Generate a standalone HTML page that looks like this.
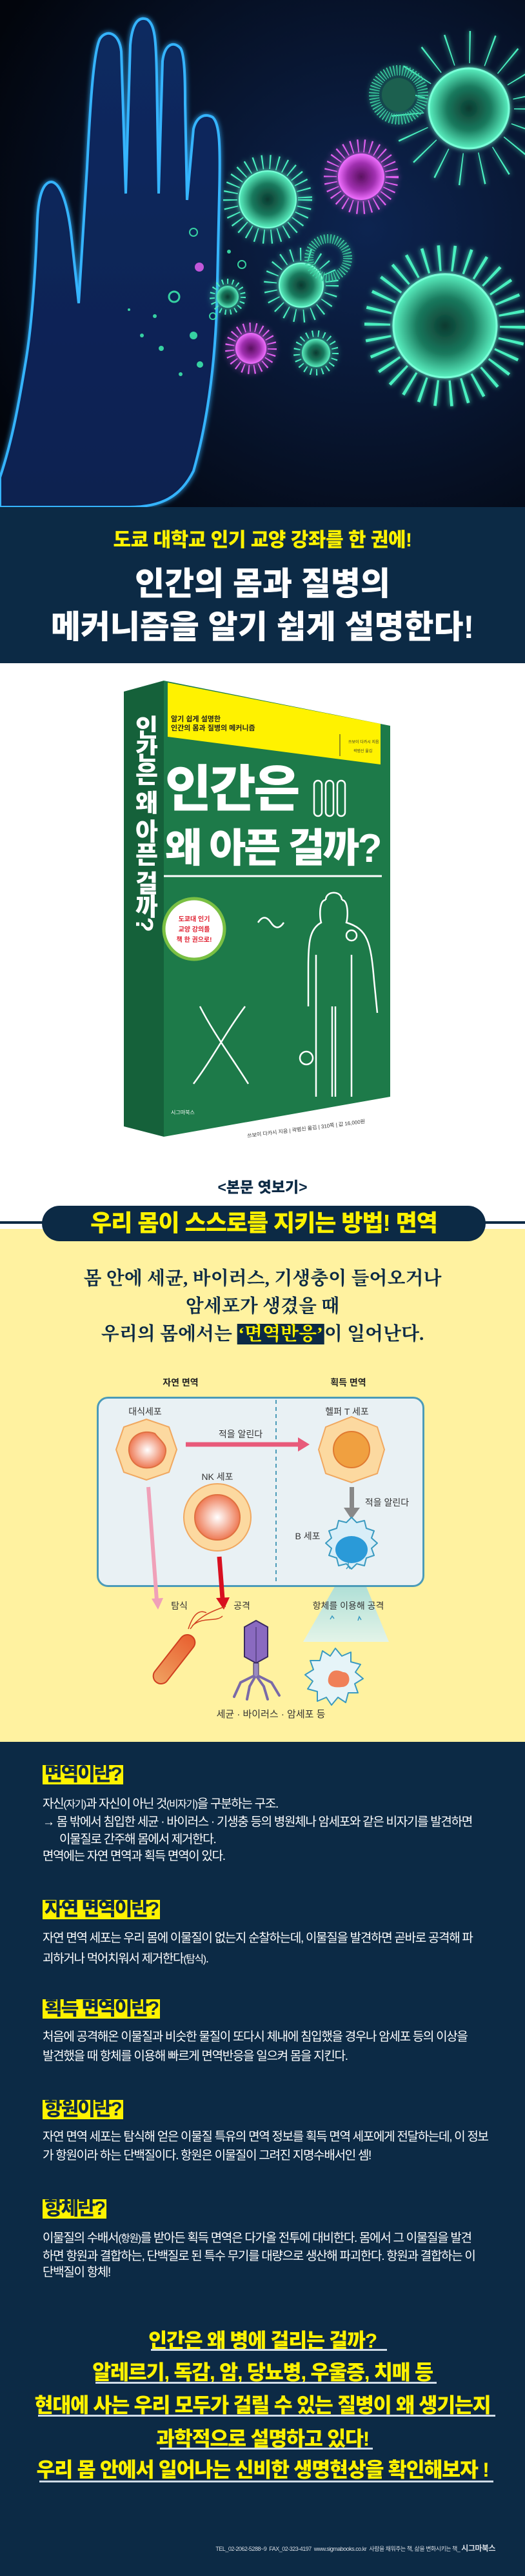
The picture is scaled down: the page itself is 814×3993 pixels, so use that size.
<!DOCTYPE html>
<html><head><meta charset="utf-8">
<style>
*{margin:0;padding:0;box-sizing:border-box}
body{width:814px;height:3993px;position:relative;overflow:hidden;background:#fff;font-family:"Liberation Sans","Noto Sans CJK KR",sans-serif}
.a{position:absolute;white-space:nowrap}
.c{transform:translateX(-50%)}
.navy{background:#0c2a45}
.h{position:absolute;left:66px;height:30px;line-height:30px;background:#fff200;color:#0c2a45;font-weight:900;font-size:30px;padding:0 3px;letter-spacing:-2px;white-space:nowrap}
.b{position:absolute;left:66px;color:#fff;font-size:19px;letter-spacing:-1.3px;line-height:22px;white-space:nowrap}
.y{position:absolute;left:407px;transform:translateX(-50%);color:#fff200;font-weight:900;font-size:31.5px;letter-spacing:-1.2px;line-height:36px;white-space:nowrap}
.u{position:absolute;height:3px;background:#d0dce8}
</style></head><body>

<!-- HERO -->
<svg class="a" style="left:0;top:0" width="814" height="786" viewBox="0 0 814 786">
<defs>
<radialGradient id="bg" cx="0.7" cy="0.45" r="0.8"><stop offset="0" stop-color="#0d2450"/><stop offset="1" stop-color="#02050c"/></radialGradient>
<linearGradient id="hand" x1="0" y1="0" x2="0" y2="1"><stop offset="0" stop-color="#0a2a60"/><stop offset="1" stop-color="#082050"/></linearGradient>
<filter id="gl" x="-30%" y="-30%" width="160%" height="160%"><feGaussianBlur stdDeviation="4" result="b"/><feMerge><feMergeNode in="b"/><feMergeNode in="SourceGraphic"/></feMerge></filter>
<radialGradient id="gv" cx="0.5" cy="0.5" r="0.5"><stop offset="0" stop-color="#0c3a30"/><stop offset="0.55" stop-color="#1a7a5e"/><stop offset="1" stop-color="#5af0c0"/></radialGradient>
<radialGradient id="pv" cx="0.5" cy="0.5" r="0.5"><stop offset="0" stop-color="#5a1060"/><stop offset="0.6" stop-color="#a030b0"/><stop offset="1" stop-color="#f070ff"/></radialGradient>
</defs>
<rect width="814" height="786" fill="url(#bg)"/>
<path filter="url(#gl)" fill="url(#hand)" stroke="#36b4ff" stroke-width="4" d="M0,740 C20,680 30,620 40,560 C50,500 55,420 58,340 C60,300 68,282 80,282 C95,284 105,320 110,360 L122,470 L135,260 C140,160 145,80 155,60 C165,45 185,50 188,80 L195,300 L202,70 C205,35 215,25 228,30 C240,38 242,60 243,120 L246,300 L252,95 C255,70 268,62 280,75 C286,85 287,120 287,160 L290,310 L300,200 C305,180 318,175 330,182 C340,192 342,220 340,300 L336,480 C332,580 320,660 300,730 C280,770 250,786 200,786 L0,786 Z"/>
<g opacity="0.85" fill="#3ef0b0">
<circle cx="309" cy="414" r="7" fill="#e060f0"/><circle cx="270" cy="460" r="8" fill="none" stroke="#3ef0b0" stroke-width="3"/><circle cx="300" cy="520" r="6"/><circle cx="250" cy="540" r="4"/><circle cx="310" cy="565" r="5"/><circle cx="300" cy="360" r="6" fill="none" stroke="#3ef0b0" stroke-width="2"/><circle cx="240" cy="490" r="3"/><circle cx="220" cy="520" r="3"/><circle cx="280" cy="580" r="3"/><circle cx="330" cy="490" r="5" fill="none" stroke="#3ef0b0" stroke-width="2"/><circle cx="375" cy="410" r="6" fill="none" stroke="#3ef0b0" stroke-width="2"/><circle cx="355" cy="390" r="3"/><circle cx="200" cy="480" r="2"/>
</g>
<g filter="url(#gl)">
<circle cx="690" cy="505" r="105" fill="none" stroke="#4af0c0" stroke-width="40" stroke-dasharray="4 18"/>
<circle cx="690" cy="505" r="80" fill="url(#gv)" stroke="#7affd8" stroke-width="3"/>
<circle cx="727" cy="168" r="95" fill="none" stroke="#4af0c0" stroke-width="50" stroke-dasharray="2 30"/>
<circle cx="727" cy="168" r="62" fill="url(#gv)" stroke="#7affd8" stroke-width="3"/>
<circle cx="618" cy="147" r="38" fill="none" stroke="#3ad0a0" stroke-width="16" stroke-dasharray="1.5 3"/>
<circle cx="618" cy="147" r="26" fill="#1a6050"/>
<circle cx="415" cy="309" r="58" fill="none" stroke="#4af0c0" stroke-width="22" stroke-dasharray="2 10"/>
<circle cx="415" cy="309" r="44" fill="url(#gv)" stroke="#7affd8" stroke-width="2"/>
<circle cx="560" cy="274" r="48" fill="none" stroke="#e060f0" stroke-width="20" stroke-dasharray="2 8"/>
<circle cx="560" cy="274" r="36" fill="url(#pv)"/>
<circle cx="467" cy="442" r="48" fill="none" stroke="#4af0c0" stroke-width="20" stroke-dasharray="2 12"/>
<circle cx="467" cy="442" r="34" fill="url(#gv)" stroke="#7affd8" stroke-width="2"/>
<circle cx="509" cy="400" r="30" fill="none" stroke="#3ad0a0" stroke-width="14" stroke-dasharray="1.5 3"/>
<circle cx="389" cy="540" r="33" fill="none" stroke="#e060f0" stroke-width="14" stroke-dasharray="2 7"/>
<circle cx="389" cy="540" r="24" fill="url(#pv)"/>
<circle cx="490" cy="547" r="30" fill="none" stroke="#4af0c0" stroke-width="10" stroke-dasharray="2 7"/>
<circle cx="490" cy="547" r="22" fill="url(#gv)"/>
<circle cx="353" cy="460" r="24" fill="none" stroke="#4af0c0" stroke-width="8" stroke-dasharray="2 6"/>
<circle cx="353" cy="460" r="17" fill="url(#gv)"/>
</g>
</svg>

<div class="a navy" style="left:0;top:786px;width:814px;height:242px"></div>
<div class="a c" style="left:407px;top:819px;color:#fff200;font-size:30px;font-weight:900;line-height:38px;letter-spacing:-0.5px">도쿄 대학교 인기 교양 강좌를 한 권에!</div>
<div class="a c" style="left:407px;top:875px;color:#fff;font-size:50px;font-weight:900;line-height:60px">인간의 몸과 질병의</div>
<div class="a c" style="left:407px;top:942px;color:#fff;font-size:50px;font-weight:900;line-height:60px">메커니즘을 알기 쉽게 설명한다!</div>

<svg class="a" style="left:0;top:1028px" width="814" height="780" viewBox="0 1028 814 780">
<polygon points="192,1072 254,1055 254,1762 192,1746" fill="#15613a"/>
<polygon points="254,1055 605,1125 605,1700 254,1762" fill="#1d7a49"/>
<polygon points="260,1058 590,1122 590,1185 260,1142" fill="#fff200"/>
<line x1="527" y1="1138" x2="527" y2="1172" stroke="#333" stroke-width="1"/>
<text x="540" y="1152" font-size="6" fill="#333">쓰보이 다카시 지음</text>
<text x="548" y="1166" font-size="6" fill="#333">곽범신 옮김</text>
<line x1="254" y1="1358" x2="592" y2="1358" stroke="#fff" stroke-width="3"/>
<g fill="none" stroke="#fff" stroke-width="2.5">
<rect x="487" y="1210" width="12" height="55" rx="6"/><rect x="505" y="1210" width="12" height="55" rx="6"/><rect x="523" y="1210" width="12" height="55" rx="6"/>
<path d="M505,1395 C495,1395 495,1420 498,1430 C480,1440 478,1460 478,1500 L478,1560 M530,1395 C540,1395 540,1420 537,1430 C570,1440 575,1460 580,1520 L585,1570"/>
<path d="M505,1395 C505,1380 530,1380 530,1395"/>
<path d="M490,1480 L490,1700 M515,1700 L515,1560 M520,1560 L520,1700 M545,1700 L545,1480"/>
<path d="M300,1680 C330,1640 350,1600 380,1560 M310,1560 C330,1600 360,1640 385,1680"/>
<path d="M400,1430 q10,-15 20,0 q10,15 20,0"/>
<circle cx="545" cy="1450" r="8"/>
<circle cx="475" cy="1640" r="10"/>
</g>
<circle cx="301" cy="1440" r="47" fill="#fff" stroke="#7ac043" stroke-width="5"/>
<g font-size="10" font-weight="700" fill="#e02030" text-anchor="middle">
<text x="301" y="1428">도쿄대 인기</text><text x="301" y="1444">교양 강의를</text><text x="301" y="1460">책 한 권으로!</text></g>
<text x="265" y="1727" font-size="8" fill="#fff">시그마북스</text>
<text x="475" y="1752" font-size="8" fill="#333" text-anchor="middle" transform="rotate(-7 475 1752)">쓰보이 다카시 지음 | 곽범신 옮김 | 310쪽 | 값 16,000원</text>
</svg>
<div class="a" style="left:265px;top:1108px;font-size:11px;font-weight:700;color:#222;line-height:14px">알기 쉽게 설명한<br>인간의 몸과 질병의 메커니즘</div>
<div class="a" style="left:256px;top:1178px;font-size:78px;font-weight:900;color:#fff;line-height:90px;letter-spacing:-3px">인간은</div>
<div class="a" style="left:256px;top:1280px;font-size:62px;font-weight:900;color:#fff;line-height:72px;letter-spacing:-3px">왜 아픈 걸까?</div>
<div class="a" style="left:203px;top:1108px;writing-mode:vertical-rl;font-size:38px;font-weight:900;color:#fff;line-height:40px;letter-spacing:-2px">인간은 왜 아픈 걸까?</div>

<div class="a c" style="left:407px;top:1826px;font-size:23px;font-weight:900;color:#0c2a45;line-height:28px">&lt;본문 엿보기&gt;</div>
<div class="a" style="left:0;top:1905px;width:814px;height:795px;background:#fff2a0"></div>
<div class="a" style="left:0;top:1893px;width:814px;height:4px;background:#0c2a45"></div>
<div class="a navy" style="left:65px;top:1869px;width:688px;height:55px;border-radius:28px"></div>
<div class="a c" style="left:409px;top:1874px;color:#fff200;font-size:36px;font-weight:900;line-height:44px;letter-spacing:-1px">우리 몸이 스스로를 지키는 방법! 면역</div>

<div class="a c" style="left:407px;top:1962px;font-family:'Liberation Serif','Noto Serif CJK SC',serif;font-weight:700;font-size:29px;color:#0c2a45;line-height:40px">몸 안에 세균, 바이러스, 기생충이 들어오거나</div>
<div class="a c" style="left:407px;top:2005px;font-family:'Liberation Serif','Noto Serif CJK SC',serif;font-weight:700;font-size:29px;color:#0c2a45;line-height:40px">암세포가 생겼을 때</div>
<div class="a c" style="left:407px;top:2048px;font-family:'Liberation Serif','Noto Serif CJK SC',serif;font-weight:700;font-size:29px;color:#0c2a45;line-height:40px">우리의 몸에서는 <span style="background:#0c2a45;color:#fff200;padding:0 2px">‘면역반응’</span>이 일어난다.</div>

<svg class="a" style="left:140px;top:2125px" width="540" height="550" viewBox="140 2125 540 550">
<defs>
<radialGradient id="nu" cx="0.5" cy="0.5" r="0.5"><stop offset="0" stop-color="#fff"/><stop offset="1" stop-color="#ee7a55"/></radialGradient>
<linearGradient id="beam" x1="0" y1="0" x2="0" y2="1"><stop offset="0" stop-color="#9ad8d8"/><stop offset="1" stop-color="#e0f4f0"/></linearGradient>
<linearGradient id="bac" x1="0" y1="0" x2="1" y2="0"><stop offset="0" stop-color="#f0a060"/><stop offset="1" stop-color="#e86030"/></linearGradient>
</defs>
<g font-size="14" fill="#222" text-anchor="middle" font-weight="700">
<text x="280" y="2148">자연 면역</text><text x="540" y="2148">획득 면역</text></g>
<polygon points="470,2545 603,2545 560,2440 530,2440" fill="url(#beam)" opacity="0.9"/>
<rect x="151.5" y="2166.5" width="505" height="292" rx="16" fill="#e9f1f4" stroke="#4b9bb8" stroke-width="3"/>
<line x1="428" y1="2170" x2="428" y2="2456" stroke="#4b9bb8" stroke-width="2" stroke-dasharray="6 5"/>
<g font-size="14" fill="#333" text-anchor="middle">
<text x="225" y="2193">대식세포</text><text x="538" y="2193">헬퍼 T 세포</text><text x="373" y="2228">적을 알린다</text>
<text x="337" y="2294">NK 세포</text><text x="477" y="2386">B 세포</text>
<text x="600" y="2334">적을 알린다</text>
</g>
<polygon points="227,2200 262,2212 274,2247 262,2282 227,2294 192,2282 180,2247 192,2212" fill="#fcd9a0" stroke="#f0a860" stroke-width="2" stroke-linejoin="round"/>
<path d="M200,2250 C198,2225 222,2215 240,2222 C250,2235 262,2240 255,2258 C248,2280 205,2285 200,2250Z" fill="url(#nu)" stroke="#e07040" stroke-width="2"/>
<polygon points="545,2196 585,2212 596,2247 585,2284 545,2298 505,2284 494,2247 505,2212" fill="#fcd9a0" stroke="#f0a860" stroke-width="2" stroke-linejoin="round"/>
<circle cx="545" cy="2247" r="28" fill="#f0a040" stroke="#e07a30" stroke-width="2"/>
<circle cx="337" cy="2352" r="52" fill="#fcd9a0" stroke="#f0a860" stroke-width="2"/>
<circle cx="337" cy="2352" r="35" fill="url(#nu)" stroke="#e07040" stroke-width="2"/>
<line x1="288" y1="2239" x2="464" y2="2239" stroke="#e85a7a" stroke-width="7"/>
<polygon points="462,2228 480,2239 462,2250" fill="#e85a7a"/>
<rect x="542" y="2305" width="7" height="34" fill="#888"/>
<polygon points="533,2337 558,2337 545,2355" fill="#888"/>
<path d="M545,2352 l8,8 l12,-3 l3,12 l12,4 l-4,11 l9,8 l-9,8 l4,11 l-12,4 l-3,12 l-12,-3 l-8,8 l-8,-8 l-12,3 l-3,-12 l-12,-4 l4,-11 l-9,-8 l9,-8 l-4,-11 l12,-4 l3,-12 l12,3 z" fill="#d8eef8" stroke="#3a9ac0" stroke-width="2" stroke-linejoin="round"/>
<ellipse cx="545" cy="2402" rx="25" ry="21" fill="#2a9ad8"/>
<line x1="230" y1="2305" x2="243" y2="2480" stroke="#f0a0b8" stroke-width="6"/>
<polygon points="235,2478 253,2477 245,2495" fill="#f0a0b8"/>
<line x1="340" y1="2413" x2="345" y2="2478" stroke="#d81020" stroke-width="7"/>
<polygon points="335,2477 356,2476 347,2495" fill="#d81020"/>
<g font-size="14" fill="#333" text-anchor="middle">
<text x="278" y="2494">탐식</text><text x="375" y="2494">공격</text><text x="540" y="2494">항체를 이용해 공격</text>
<text x="420" y="2662" font-size="15">세균 · 바이러스 · 암세포 등</text></g>
<g stroke="#3a9ac0" stroke-width="1.5" fill="none"><path d="M540,2420 v8 m-3,4 l3,-4 l3,4"/><path d="M512,2510 l3,-5 l3,4"/><path d="M555,2512 l2,-6 l3,5"/></g>
<rect x="225" y="2560" width="90" height="24" rx="12" fill="url(#bac)" stroke="#d04020" stroke-width="2" transform="rotate(-52 270 2572)"/>
<path d="M295,2525 C305,2510 320,2500 350,2490 M298,2520 C315,2505 335,2515 345,2505 M292,2525 C300,2500 310,2495 320,2500" stroke="#d04020" stroke-width="1.5" fill="none"/>
<polygon points="397,2512 415,2522 415,2568 397,2578 379,2568 379,2522" fill="#8a6ac0" stroke="#3a2a60" stroke-width="2"/>
<line x1="397" y1="2522" x2="397" y2="2578" stroke="#3a2a60"/>
<rect x="393" y="2578" width="8" height="22" fill="#9a8ac0" stroke="#3a2a60"/>
<g stroke="#7a6aa8" stroke-width="4" fill="none" stroke-linecap="round"><path d="M393,2598 l-20,10 l-10,22"/><path d="M395,2600 l-8,14 l-4,20"/><path d="M401,2598 l20,10 l12,20"/><path d="M399,2600 l10,14 l6,20"/></g>
<path d="M520,2555 l10,12 l14,-6 l0,15 l15,4 l-8,12 l12,10 l-13,8 l5,14 l-15,0 l-4,15 l-12,-8 l-10,12 l-8,-12 l-14,6 l0,-15 l-15,-4 l8,-12 l-12,-10 l13,-8 l-5,-14 l15,0 l4,-15 l12,8 z" fill="#e6f4f8" stroke="#3a9ac0" stroke-width="2" stroke-linejoin="round"/>
<path d="M510,2598 C515,2585 528,2590 532,2592 C545,2592 545,2615 530,2615 C515,2617 505,2612 510,2598Z" fill="#f08058"/>
</svg>

<div class="a navy" style="left:0;top:2700px;width:814px;height:1293px"></div>
<div class="h" style="top:2736px">면역이란?</div>
<div class="b" style="top:2786px">자신<small>(자기)</small>과 자신이 아닌 것<small>(비자기)</small>을 구분하는 구조.</div>
<div class="b" style="top:2814px">→ 몸 밖에서 침입한 세균 · 바이러스 · 기생충 등의 병원체나 암세포와 같은 비자기를 발견하면</div>
<div class="b" style="top:2841px;left:92px">이물질로 간주해 몸에서 제거한다.</div>
<div class="b" style="top:2867px">면역에는 자연 면역과 획득 면역이 있다.</div>

<div class="h" style="top:2945px">자연 면역이란?</div>
<div class="b" style="top:2994px">자연 면역 세포는 우리 몸에 이물질이 없는지 순찰하는데, 이물질을 발견하면 곧바로 공격해 파</div>
<div class="b" style="top:3026px">괴하거나 먹어치워서 제거한다<small>(탐식)</small>.</div>

<div class="h" style="top:3099px">획득 면역이란?</div>
<div class="b" style="top:3147px">처음에 공격해온 이물질과 비슷한 물질이 또다시 체내에 침입했을 경우나 암세포 등의 이상을</div>
<div class="b" style="top:3177px">발견했을 때 항체를 이용해 빠르게 면역반응을 일으켜 몸을 지킨다.</div>

<div class="h" style="top:3255px">항원이란?</div>
<div class="b" style="top:3302px">자연 면역 세포는 탐식해 얻은 이물질 특유의 면역 정보를 획득 면역 세포에게 전달하는데, 이 정보</div>
<div class="b" style="top:3331px">가 항원이라 하는 단백질이다. 항원은 이물질이 그려진 지명수배서인 셈!</div>

<div class="h" style="top:3409px">항체란?</div>
<div class="b" style="top:3459px">이물질의 수배서<small>(항원)</small>를 받아든 획득 면역은 다가올 전투에 대비한다. 몸에서 그 이물질을 발견</div>
<div class="b" style="top:3487px">하면 항원과 결합하는, 단백질로 된 특수 무기를 대량으로 생산해 파괴한다. 항원과 결합하는 이</div>
<div class="b" style="top:3512px">단백질이 항체!</div>

<div class="y" style="top:3610px">인간은 왜 병에 걸리는 걸까?</div>
<div class="u" style="top:3641px;left:234px;width:366px"></div>
<div class="y" style="top:3659px">알레르기, 독감, 암, 당뇨병, 우울증, 치매 등</div>
<div class="u" style="top:3692px;left:148px;width:529px"></div>
<div class="y" style="top:3710px">현대에 사는 우리 모두가 걸릴 수 있는 질병이 왜 생기는지</div>
<div class="u" style="top:3743px;left:59px;width:709px"></div>
<div class="y" style="top:3762px">과학적으로 설명하고 있다!</div>
<div class="u" style="top:3794px;left:248px;width:330px"></div>
<div class="y" style="top:3810px">우리 몸 안에서 일어나는 신비한 생명현상을 확인해보자 !</div>
<div class="u" style="top:3845px;left:61px;width:704px"></div>

<div class="a" style="right:46px;top:3941px;color:#d8dde4;font-size:9px;letter-spacing:-0.5px">TEL_02-2062-5288~9 &nbsp;FAX_02-323-4197 &nbsp;www.sigmabooks.co.kr &nbsp;사람을 채워주는 책, 삶을 변화시키는 책_ <b style="font-size:12px">시그마북스</b></div>
</body></html>
